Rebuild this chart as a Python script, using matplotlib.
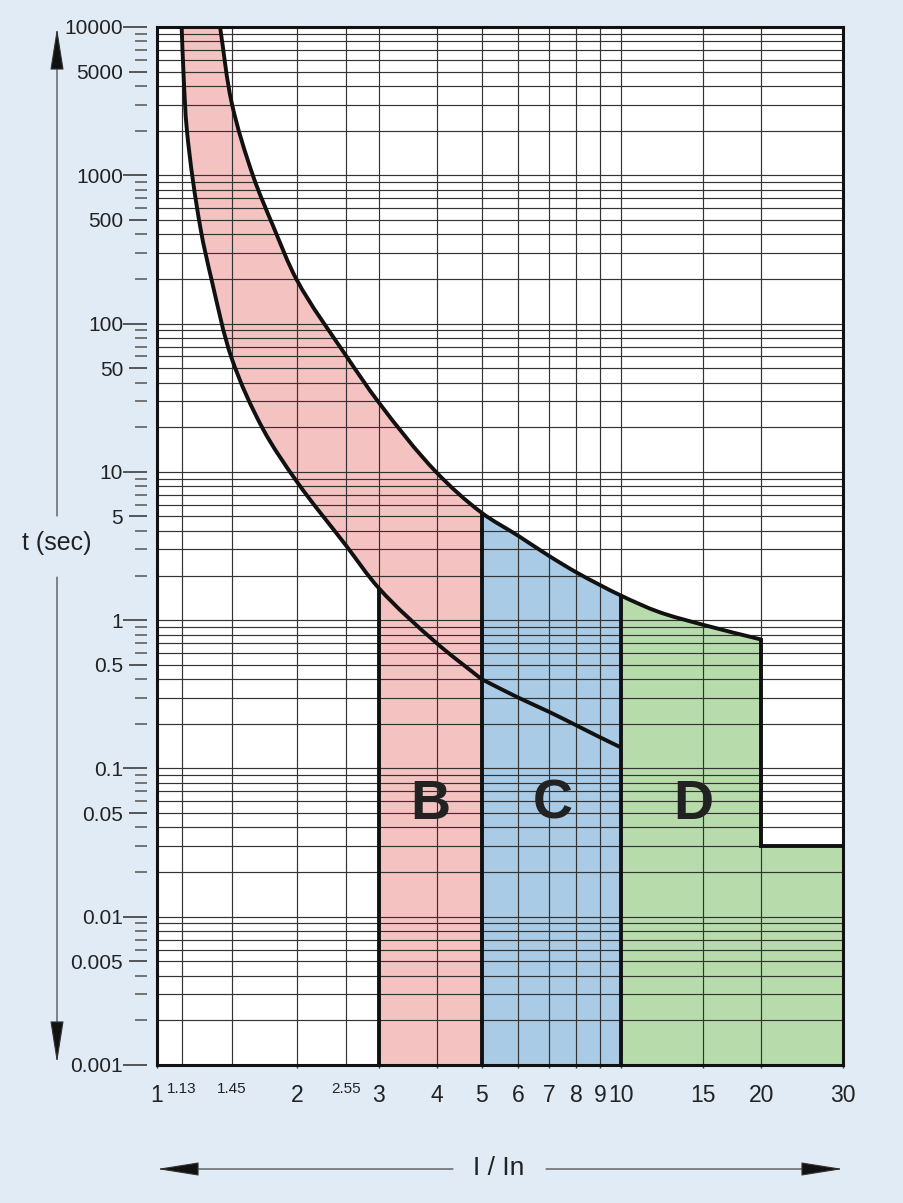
import matplotlib
matplotlib.use("Agg")
import matplotlib.pyplot as plt
from matplotlib.path import Path
from matplotlib.patches import PathPatch
import numpy as np

plt.rcParams['font.family'] = ['Liberation Sans', 'DejaVu Sans']

# ===== date (I/In, t in secunde) =====
upper_x = [1.367, 1.449, 1.612, 1.781, 2.0, 2.56, 3.0, 4.0, 5.0, 6.0, 7.0, 8.0,
           10.0, 12.0, 15.0, 20.0]
upper_t = [10000, 3060, 980, 450, 197, 60, 29.5, 9.9, 5.3, 3.7, 2.7, 2.1,
           1.46, 1.14, 0.93, 0.74]

lower_x = [1.13, 1.14, 1.16, 1.242, 1.311, 1.449, 1.695, 2.0, 2.55, 3.0, 4.0, 5.0,
           6.0, 7.0, 8.0, 9.0, 10.0]
lower_t = [10000, 5000, 2000, 430, 197, 58, 19.2, 8.6, 3.2, 1.65, 0.7, 0.4,
           0.30, 0.24, 0.195, 0.162, 0.138]

# treapta D: de la 20 la 30 In
d_step_x = [20.0, 30.0]
d_step_t = 0.03

b_limits = [3.0, 5.0]
c_limits = [5.0, 10.0]
d_limits = [10.0, 20.0]

zone_labels = ["B", "C", "D"]
zone_label_x = [3.88, 7.13, 14.3]
zone_label_t = 0.057

x_major = [1, 2, 3, 4, 5, 6, 7, 8, 9, 10, 15, 20, 30]
x_minor = [1.13, 1.45, 2.55]
x_grid = [1.13, 1.45, 2, 2.55, 3, 4, 5, 6, 7, 8, 9, 10, 15, 20]

y_major = [10000, 5000, 1000, 500, 100, 50, 10, 5, 1, 0.5, 0.1, 0.05, 0.01, 0.005, 0.001]
y_major_lbl = ["10000", "5000", "1000", "500", "100", "50", "10", "5", "1", "0.5",
               "0.1", "0.05", "0.01", "0.005", "0.001"]

# ===== culori =====
bg = '#e1ebf6'
red = '#f4c2c0'
blue = '#a9cbe6'
green = '#b7dbab'
ink = '#111111'

fig = plt.figure(figsize=(9.04, 12.03), dpi=100, facecolor=bg)
ax = fig.add_axes([157/904, 138/1203, 686/904, 1038/1203])
ax.set_facecolor('white')
ax.set_xscale('log')
ax.set_yscale('log')
ax.set_xlim(1, 30)
ax.set_ylim(0.001, 10000)


# ===== curbe netede (Bezier prin punctele citite) =====
def bezier_ctrl(xs, ts, corners=()):
    P = ax.transData.transform(np.column_stack([xs, ts]))
    n = len(P)
    seg = P[1:] - P[:-1]
    L = np.hypot(seg[:, 0], seg[:, 1])
    U = seg / L[:, None]
    t_in = np.empty((n, 2))
    t_out = np.empty((n, 2))
    for i in range(n):
        if i == 0:
            t_in[i] = t_out[i] = U[0]
        elif i == n - 1:
            t_in[i] = t_out[i] = U[-1]
        elif i in corners:
            t_in[i], t_out[i] = U[i - 1], U[i]
        else:
            t = U[i - 1] + U[i]
            t_in[i] = t_out[i] = t / np.hypot(*t)
    inv = ax.transData.inverted()
    ctrl = []
    for i in range(n - 1):
        c1 = inv.transform(P[i] + t_out[i] * L[i] / 3)
        c2 = inv.transform(P[i + 1] - t_in[i + 1] * L[i] / 3)
        ctrl.append((c1, c2))
    return ctrl


def piece(xs, ts, ctrl, i0, i1):
    verts, codes = [], []
    if i1 > i0:
        for i in range(i0, i1):
            c1, c2 = ctrl[i]
            verts += [c1, c2, (xs[i + 1], ts[i + 1])]
            codes += [Path.CURVE4] * 3
    else:
        for i in range(i0 - 1, i1 - 1, -1):
            c1, c2 = ctrl[i]
            verts += [c2, c1, (xs[i], ts[i])]
            codes += [Path.CURVE4] * 3
    return verts, codes


u_ctrl = bezier_ctrl(upper_x, upper_t)
l_ctrl = bezier_ctrl(lower_x, lower_t, corners=(lower_x.index(5.0),))

iu5 = upper_x.index(b_limits[1])
iu10 = upper_x.index(c_limits[1])
iu20 = upper_x.index(d_limits[1])
il3 = lower_x.index(b_limits[0])

# zona B (rosu)
v, c = [(lower_x[0], lower_t[0])], [Path.MOVETO]
pv, pc = piece(lower_x, lower_t, l_ctrl, 0, il3)
v += pv; c += pc
v += [(b_limits[0], 0.001), (b_limits[1], 0.001), (upper_x[iu5], upper_t[iu5])]
c += [Path.LINETO] * 3
pv, pc = piece(upper_x, upper_t, u_ctrl, iu5, 0)
v += pv + [(0, 0)]; c += pc + [Path.CLOSEPOLY]
ax.add_patch(PathPatch(Path(v, c), fc=red, lw=0, zorder=1))

# zona C (albastru)
v, c = [(c_limits[0], 0.001), (upper_x[iu5], upper_t[iu5])], [Path.MOVETO, Path.LINETO]
pv, pc = piece(upper_x, upper_t, u_ctrl, iu5, iu10)
v += pv + [(c_limits[1], 0.001), (0, 0)]; c += pc + [Path.LINETO, Path.CLOSEPOLY]
ax.add_patch(PathPatch(Path(v, c), fc=blue, lw=0, zorder=1))

# zona D (verde)
v, c = [(d_limits[0], 0.001), (upper_x[iu10], upper_t[iu10])], [Path.MOVETO, Path.LINETO]
pv, pc = piece(upper_x, upper_t, u_ctrl, iu10, iu20)
v += pv + [(d_step_x[0], d_step_t), (d_step_x[1], d_step_t), (d_step_x[1], 0.001), (0, 0)]
c += pc + [Path.LINETO] * 3 + [Path.CLOSEPOLY]
ax.add_patch(PathPatch(Path(v, c), fc=green, lw=0, zorder=1))

# ===== grila =====
decades = [10.0**k for k in range(-3, 5)]
y_all = sorted(set([d*m for d in decades[:-1] for m in range(1, 10)] + [10000]))
y_grid = [val for val in y_all if 0.001 < val < 10000]
y_minor = [val for val in y_all if not any(np.isclose(val, m) for m in y_major)]
for val in y_grid:
    ax.axhline(val, color='#333333', lw=0.85, zorder=2)
for val in x_grid:
    ax.axvline(val, color='#333333', lw=0.85, zorder=2)

# ===== contururi =====
lw_c = 2.8
v, c = [(upper_x[0], upper_t[0])], [Path.MOVETO]
pv, pc = piece(upper_x, upper_t, u_ctrl, 0, len(upper_x) - 1)
ax.add_patch(PathPatch(Path(v + pv, c + pc), fc='none', ec=ink, lw=lw_c, zorder=3))
v, c = [(lower_x[0], lower_t[0])], [Path.MOVETO]
pv, pc = piece(lower_x, lower_t, l_ctrl, 0, len(lower_x) - 1)
ax.add_patch(PathPatch(Path(v + pv, c + pc), fc='none', ec=ink, lw=lw_c, zorder=3))

ax.plot([d_step_x[0], d_step_x[0], d_step_x[1]], [upper_t[-1], d_step_t, d_step_t],
        color=ink, lw=lw_c, zorder=3, solid_joinstyle='miter')
ax.vlines(b_limits[0], 0.001, lower_t[il3], color=ink, lw=lw_c, zorder=3)
ax.vlines(c_limits[0], 0.001, upper_t[iu5], color=ink, lw=lw_c, zorder=3)
ax.vlines(d_limits[0], 0.001, upper_t[iu10], color=ink, lw=lw_c, zorder=3)

for lbl, xv in zip(zone_labels, zone_label_x):
    ax.text(xv, zone_label_t, lbl, fontsize=40, fontweight='bold', color='#222222',
            ha='center', va='center', zorder=4)

# ===== chenar =====
for s in ['top', 'right', 'bottom']:
    ax.spines[s].set_linewidth(2.2)
    ax.spines[s].set_color(ink)
    ax.spines[s].set_zorder(5)
ax.spines['left'].set_position(('outward', 7))
ax.spines['left'].set_visible(False)
ax.axvline(1, color=ink, lw=2.2, zorder=5, clip_on=False)

# ===== axe =====
ax.set_yticks(y_major, y_major_lbl)
ax.set_yticks(y_minor, [], minor=True)
ax.tick_params(axis='y', which='major', length=17.3, width=1.3, color='#4a4a4a',
               pad=0, labelsize=15, labelcolor='#222222')
ax.tick_params(axis='y', which='minor', length=8.6, width=1.3, color='#6a6a6a')
for tk, val in zip(ax.yaxis.get_major_ticks(), y_major):
    if not np.isclose(np.log10(val), round(np.log10(val))):
        tk.tick1line.set_markersize(13)

ax.set_xticks(x_major, [str(val) for val in x_major])
ax.set_xticks(x_minor, [str(val) for val in x_minor], minor=True)
ax.tick_params(axis='x', which='major', length=2, width=1, color='#333333',
               pad=12, labelsize=16.5, labelcolor='#222222')
ax.tick_params(axis='x', which='minor', length=0, pad=12, labelsize=11,
               labelcolor='#222222')

# etichete axe
fig.text(57/904, 1 - 543/1203, "t (sec)", fontsize=18, color='#222222',
         ha='center', va='center')
fig.text(499/904, 1 - 1168/1203, "I / In", fontsize=19, color='#222222',
         ha='center', va='center')

arrow = dict(arrowstyle='-|>,head_length=27,head_width=4.3', mutation_scale=1,
             shrinkA=0, shrinkB=0, color='#333333', lw=0.8, fc='#111111')
ax.annotate('', xy=(57, 1203-28), xytext=(57, 1203-516),
            xycoords='figure pixels', textcoords='figure pixels', arrowprops=arrow)
ax.annotate('', xy=(57, 1203-1063), xytext=(57, 1203-577),
            xycoords='figure pixels', textcoords='figure pixels', arrowprops=arrow)
ax.annotate('', xy=(157, 1203-1169), xytext=(453, 1203-1169),
            xycoords='figure pixels', textcoords='figure pixels', arrowprops=arrow)
ax.annotate('', xy=(843, 1203-1169), xytext=(546, 1203-1169),
            xycoords='figure pixels', textcoords='figure pixels', arrowprops=arrow)

fig.savefig('out.png', dpi=100, facecolor=bg)
